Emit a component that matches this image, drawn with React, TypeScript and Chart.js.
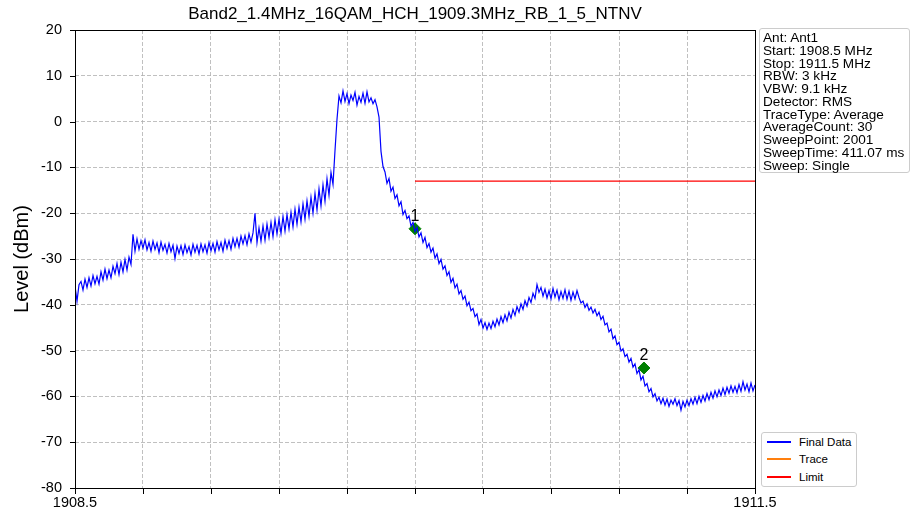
import React, { useEffect, useRef } from "react";
import { Chart, registerables } from "chart.js";

Chart.register(...registerables);

const TITLE = "Band2_1.4MHz_16QAM_HCH_1909.3MHz_RB_1_5_NTNV";
const Y_TITLE = "Level (dBm)";
const START_MHZ = 1908.5;
const STOP_MHZ = 1911.5;
const Y_MIN = -80;
const Y_MAX = 20;
const Y_STEP = 10;

const X_TICKS = [1908.5, 1908.8, 1909.1, 1909.4, 1909.7, 1910.0, 1910.3, 1910.6, 1910.9, 1911.2, 1911.5];
const X_TICK_LABELS = ["1908.5", "", "", "", "", "", "", "", "", "", "1911.5"];

// Final Data trace levels (dBm), evenly spaced across the sweep span
const LEVELS = [
  -35.9, -39.2, -35.6, -34.9, -36.8, -34.4, -36.2, -34.1, -35.9, -33.6,
  -35.4, -33.8, -35.5, -32.8, -34.6, -32.2, -34.3, -32.4, -34.1, -31.6,
  -33.2, -31.0, -33.4, -30.7, -32.8, -30.1, -32.4, -29.6, -31.2, -24.6,
  -28.3, -25.6, -27.9, -26.0, -27.6, -25.8, -28.0, -26.4, -28.3, -26.1,
  -27.9, -26.5, -28.6, -26.3, -28.1, -26.8, -28.7, -26.6, -28.4, -27.0,
  -29.9, -27.2, -28.8, -27.1, -29.0, -26.9, -28.6, -27.3, -29.1, -26.8,
  -28.5, -27.0, -28.9, -26.7, -28.4, -26.9, -28.7, -26.4, -28.2, -26.6,
  -28.5, -26.2, -28.0, -26.4, -28.3, -25.9, -27.7, -26.0, -27.9, -25.5,
  -27.3, -25.5, -27.4, -25.0, -26.7, -24.9, -26.9, -24.5, -26.3, -24.3,
  -20.0, -26.4, -23.2, -26.1, -22.8, -25.9, -22.4, -25.3, -22.0, -25.1,
  -21.4, -24.5, -21.3, -24.4, -20.7, -23.9, -20.3, -23.4, -19.8, -23.0,
  -19.1, -22.4, -18.7, -21.9, -18.0, -21.3, -17.3, -20.7, -16.5, -20.0,
  -15.7, -19.3, -14.7, -18.4, -13.8, -17.4, -12.5, -16.1, -11.1, -13.7,
  -6.3, 0.5, 5.6, 4.1, 6.7, 4.4, 6.1, 3.9, 5.8, 4.6,
  6.4, 3.6, 5.5, 4.2, 6.2, 4.0, 6.5, 4.3, 5.2, 3.9,
  4.8, 3.2, 1.0, -6.5, -9.8, -11.0, -13.5, -12.4, -15.2, -14.3,
  -16.8, -16.0, -18.4, -17.5, -20.3, -19.4, -21.2, -20.6, -22.8, -22.0,
  -24.0, -23.1, -25.2, -24.3, -26.4, -25.3, -27.5, -26.6, -28.5, -27.6,
  -29.8, -28.9, -31.0, -30.1, -32.2, -31.5, -33.6, -32.8, -35.1, -34.2,
  -36.3, -35.5, -37.6, -36.9, -38.8, -38.1, -40.2, -39.4, -41.3, -40.8,
  -42.6, -42.0, -44.3, -43.2, -45.1, -43.9, -45.4, -44.0, -45.2, -43.6,
  -44.8, -43.1, -44.4, -42.6, -43.9, -42.2, -43.5, -41.6, -42.9, -41.0,
  -42.3, -40.4, -41.6, -39.8, -41.0, -39.1, -40.3, -38.4, -39.5, -37.5,
  -38.6, -35.6, -37.3, -36.2, -38.1, -36.6, -38.5, -36.9, -38.7, -36.4,
  -38.3, -36.8, -38.9, -37.1, -38.6, -36.7, -38.8, -37.0, -39.0, -37.2,
  -38.7, -36.9, -38.4, -39.6, -39.2, -40.6, -39.8, -41.2, -40.5, -41.8,
  -41.0, -42.4, -41.6, -43.2, -42.5, -44.4, -44.0, -45.9, -45.3, -47.4,
  -46.8, -48.7, -48.2, -50.1, -49.6, -51.3, -50.8, -52.5, -51.7, -53.6,
  -52.9, -55.0, -54.2, -56.4, -55.6, -57.7, -57.2, -59.0, -58.3, -60.1,
  -59.4, -61.0, -60.2, -61.6, -60.4, -61.9, -60.6, -62.2, -60.8, -61.7,
  -60.5, -62.0, -60.9, -63.0, -61.1, -62.3, -60.8, -62.0, -60.5, -61.7,
  -60.2, -61.6, -60.0, -61.3, -59.8, -61.0, -59.4, -60.7, -59.1, -60.4,
  -58.8, -60.1, -58.6, -59.8, -58.2, -59.6, -58.0, -59.3, -57.7, -59.1,
  -57.8, -59.2, -57.4, -58.9, -56.8, -58.6, -57.3, -59.0, -57.1, -58.8,
  -57.5,
];

const LIMIT_FREQS = [1910.0, 1911.5];
const LIMIT_LEVELS = [-13, -13];

const MARKER_NAMES = ["1", "2"];
const MARKER_FREQS = [1910.0, 1911.01];
const MARKER_LEVELS = [-23.4, -53.8];

const INFO_LINES = [
  "Ant: Ant1",
  "Start: 1908.5 MHz",
  "Stop: 1911.5 MHz",
  "RBW: 3 kHz",
  "VBW: 9.1 kHz",
  "Detector: RMS",
  "TraceType: Average",
  "AverageCount: 30",
  "SweepPoint: 2001",
  "SweepTime: 411.07 ms",
  "Sweep: Single",
];

const LEGEND_LABELS = ["Final Data", "Trace", "Limit"];
const LEGEND_COLORS = ["#0000ff", "#ff7f0e", "#ff0000"];

const FONT = "'Liberation Sans', Arial, Helvetica, sans-serif";

const framePlugin = {
  id: "frameTicks",
  afterDatasetsDraw(chart: any) {
    const { ctx, chartArea, scales } = chart;
    const { left, right, top, bottom } = chartArea;
    ctx.save();
    ctx.strokeStyle = "#000";
    ctx.lineWidth = 1;
    ctx.setLineDash([]);
    ctx.strokeRect(Math.round(left) + 0.5, Math.round(top) + 0.5, Math.round(right - left), Math.round(bottom - top));
    ctx.beginPath();
    scales.y.ticks.forEach((t: any) => {
      const y = Math.round(scales.y.getPixelForValue(t.value)) + 0.5;
      ctx.moveTo(left - 5, y);
      ctx.lineTo(left, y);
    });
    scales.x.ticks.forEach((t: any) => {
      const x = Math.round(scales.x.getPixelForValue(t.value)) + 0.5;
      ctx.moveTo(x, bottom);
      ctx.lineTo(x, bottom + 6);
    });
    ctx.stroke();
    ctx.restore();
  },
};

const markerTextPlugin = {
  id: "markerText",
  afterDatasetsDraw(chart: any) {
    const { ctx, scales } = chart;
    ctx.save();
    ctx.fillStyle = "#000";
    ctx.font = `16px ${FONT}`;
    ctx.textAlign = "center";
    ctx.textBaseline = "alphabetic";
    MARKER_NAMES.forEach((name, i) => {
      const x = scales.x.getPixelForValue(MARKER_FREQS[i]);
      const y = scales.y.getPixelForValue(MARKER_LEVELS[i]);
      ctx.fillText(name, x, y - 8);
    });
    ctx.restore();
  },
};

export default function App() {
  const canvasRef = useRef<HTMLCanvasElement>(null);

  useEffect(() => {
    document.body.style.margin = "0";
    const n = LEVELS.length;
    const trace = LEVELS.map((y, i) => ({
      x: START_MHZ + (i * (STOP_MHZ - START_MHZ)) / (n - 1),
      y,
    }));
    const limit = LIMIT_FREQS.map((x, i) => ({ x, y: LIMIT_LEVELS[i] }));
    const markers = MARKER_FREQS.map((x, i) => ({ x, y: MARKER_LEVELS[i] }));

    const chart = new Chart(canvasRef.current as HTMLCanvasElement, {
      type: "line",
      data: {
        datasets: [
          {
            label: "Final Data",
            data: trace,
            borderColor: "#0000ff",
            borderWidth: 1.2,
            pointRadius: 0,
            tension: 0,
          },
          {
            label: "Limit",
            data: limit,
            borderColor: "#ff0000",
            borderWidth: 1.3,
            pointRadius: 0,
          },
          {
            label: "Markers",
            type: "scatter",
            data: markers,
            pointStyle: "rectRot",
            pointRadius: 6,
            borderWidth: 1,
            backgroundColor: "#008000",
            borderColor: "#008000",
          } as any,
        ],
      },
      options: {
        responsive: false,
        animation: false,
        layout: { padding: { left: 0, right: 157, top: 30, bottom: 0 } },
        plugins: {
          legend: { display: false },
          tooltip: { enabled: false },
          title: { display: false },
        },
        scales: {
          x: {
            type: "linear",
            min: START_MHZ,
            max: STOP_MHZ,
            afterFit: (s: any) => {
              s.height = 31;
            },
            afterBuildTicks: (s: any) => {
              s.ticks = X_TICKS.map((v) => ({ value: v }));
            },
            ticks: {
              autoSkip: false,
              maxRotation: 0,
              padding: 6,
              color: "#000",
              font: { family: FONT, size: 14.5 },
              callback: (_v: any, i: number) => X_TICK_LABELS[i],
            },
            grid: { color: "#b0b0b0", lineWidth: 0.8, drawTicks: false },
            border: { display: false, dash: [4, 2] },
          },
          y: {
            type: "linear",
            min: Y_MIN,
            max: Y_MAX,
            afterFit: (s: any) => {
              s.width = 75;
            },
            ticks: {
              stepSize: Y_STEP,
              padding: 13,
              color: "#000",
              font: { family: FONT, size: 14.5 },
            },
            title: {
              display: true,
              text: Y_TITLE,
              color: "#000",
              font: { family: FONT, size: 20 },
              padding: { top: 10, bottom: 0 },
            },
            grid: { color: "#b0b0b0", lineWidth: 0.8, drawTicks: false },
            border: { display: false, dash: [4, 2] },
          },
        },
      },
      plugins: [framePlugin, markerTextPlugin],
    });
    return () => chart.destroy();
  }, []);

  return (
    <div style={{ position: "relative", width: 912, height: 519, background: "#fff", fontFamily: FONT }}>
      <canvas ref={canvasRef} width={912} height={519} style={{ position: "absolute", left: 0, top: 0 }} />
      <div
        style={{
          position: "absolute",
          left: 75,
          top: 4,
          width: 680,
          textAlign: "center",
          fontSize: 17,
          lineHeight: "20px",
          color: "#000",
        }}
      >
        {TITLE}
      </div>
      <div
        style={{
          position: "absolute",
          left: 759,
          top: 28,
          width: 151,
          height: 145,
          boxSizing: "border-box",
          border: "1px solid #cccccc",
          borderRadius: 3,
          padding: "3px 0 0 3px",
          fontSize: 13.6,
          lineHeight: "12.75px",
          color: "#000",
          whiteSpace: "nowrap",
          background: "#fff",
        }}
      >
        {INFO_LINES.map((l) => (
          <div key={l}>{l}</div>
        ))}
      </div>
      <div
        style={{
          position: "absolute",
          left: 761,
          top: 432,
          width: 96,
          height: 55,
          boxSizing: "border-box",
          border: "1px solid #cccccc",
          borderRadius: 3,
          background: "#fff",
          fontSize: 11.5,
          color: "#000",
        }}
      >
        {LEGEND_LABELS.map((l, i) => (
          <div key={l} style={{ height: 17.5, display: "flex", alignItems: "center" }}>
            <div style={{ width: 24, height: 2, marginLeft: 5, marginRight: 8, background: LEGEND_COLORS[i] }} />
            <span>{l}</span>
          </div>
        ))}
      </div>
    </div>
  );
}
